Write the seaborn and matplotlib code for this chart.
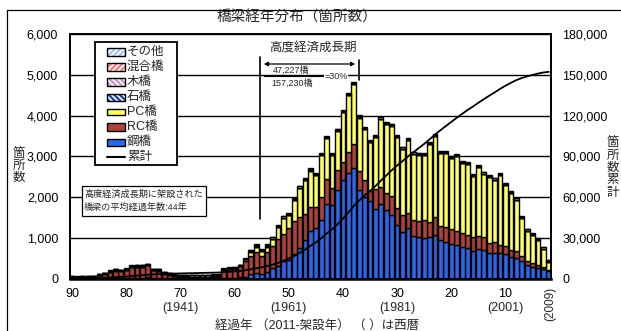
import numpy as np
import pandas as pd
import matplotlib
matplotlib.use("Agg")
import matplotlib.pyplot as plt
import seaborn as sns
from matplotlib.patches import Rectangle, FancyArrowPatch
from matplotlib.lines import Line2D
from matplotlib.ticker import FuncFormatter

# ---- data: bridges by elapsed years (90 -> 2), count per construction type ----
ages = list(range(90, 1, -1))

steel = [5, 0, 5, 5, 5, 5, 5, 10, 10, 10, 15, 20, 15, 20, 25, 10, 10, 5, 5, 5, 5,
         5, 5, 5, 5, 5, 5, 5,
         15, 20, 20, 30, 40,
         100, 140, 120, 150, 250, 300, 420, 450, 600, 750, 940, 1170, 1230, 1430, 1840, 1800, 2170,
         2410, 2580, 2700, 2180, 2000, 1900, 1700, 1840, 1680, 1560, 1310, 1150, 1230, 1040, 1020, 985,
         1020, 1070, 940, 900, 845, 820, 780, 740, 675, 715, 700, 635, 635, 615, 600, 535, 495, 435,
         330, 290, 250, 225, 185]
rc = [20, 20, 25, 25, 35, 70, 100, 150, 180, 170, 195, 260, 275, 270, 295, 190, 180, 115, 85, 55, 40,
      30, 25, 25, 25, 25, 30, 35,
      190, 210, 220, 270, 400,
      460, 500, 440, 490, 550, 660, 680, 800, 800, 750, 650, 590, 530, 570, 610, 410, 490,
      450, 530, 610, 470, 410, 250, 500, 410, 410, 460, 410, 410, 370, 390, 400, 450,
      370, 450, 350, 355, 360, 340, 330, 325, 350, 325, 310, 245, 255, 205, 200, 165, 180, 115,
      100, 100, 75, 65, 25]
pc = [0] * 28 + [5, 5, 10, 15, 30,
      100, 145, 110, 145, 175, 300, 390, 300, 515, 725, 815, 890, 770, 1030, 990, 810, 970,
      1220, 1390, 1460, 1300, 1260, 1195, 1270, 1670, 1700, 1730, 1750, 1620, 1790, 1630, 1620, 1590,
      1910, 1970, 1790, 1825, 1745, 1840, 1720, 1735, 1480, 1690, 1560, 1610, 1530, 1710, 1485, 1395,
      1255, 930, 740, 670, 610, 440, 205]
stone = [20, 15, 15, 15, 15, 20, 20, 20, 20, 20, 20, 20, 20, 20, 20, 20, 20, 20, 20, 20, 20,
         15, 15, 15, 15, 15, 15, 15,
         10, 10, 5, 5, 5] + [0] * 56
wood = [10, 10, 10, 10, 10, 10, 10, 15, 15, 15, 15, 15, 15, 15, 15, 15, 15, 15, 15, 15, 15,
        25, 30, 30, 35, 35, 35, 30,
        15, 10, 10, 5, 5] + [5] * 56
mixed = [0] * 21 + [5] * 7 + [5, 5, 5, 5, 10] + [30] * 56
other = [5] * 21 + [10] * 7 + [10] * 5 + [15] * 56

series = {"鋼橋": steel, "RC橋": rc, "PC橋": pc, "石橋": stone,
          "木橋": wood, "混合橋": mixed, "その他": other}
stack_order = ["その他", "混合橋", "木橋", "石橋", "PC橋", "RC橋", "鋼橋"]  # top -> bottom
colors = {"鋼橋": "#2f66e6", "RC橋": "#ad433b", "PC橋": "#ffff66",
          "石橋": "#a8b4e0", "木橋": "#e3c6e3", "混合橋": "#f2b3b3", "その他": "#dce8f8"}

year_ages = [70, 50, 30, 10]
base_year = 2011

df = pd.concat([pd.DataFrame({"age": ages, "type": k, "count": v}) for k, v in series.items()],
               ignore_index=True)
totals = np.sum([series[k] for k in series], axis=0)
cum_df = pd.DataFrame({"age": ages, "cum": np.cumsum(totals)})

# ---- styling ----
sns.set_theme(style="white")
plt.rcParams["font.family"] = ["Liberation Sans", "Noto Sans CJK JP", "DejaVu Sans"]
plt.rcParams["hatch.linewidth"] = 1.2

W, H = 621, 331
fig = plt.figure(figsize=(W / 100, H / 100), dpi=100)


def fx(px):
    return px / W


def fy(py):
    return 1 - py / H


ax = fig.add_axes([fx(70), fy(278.5), (551 - 70) / W, (278.5 - 34) / H])

sns.histplot(data=df, x="age", weights="count", hue="type", hue_order=stack_order,
             multiple="stack", discrete=True, shrink=0.88, palette=colors,
             edgecolor="black", linewidth=1.0, alpha=1, legend=False, ax=ax, zorder=2)

ax.set_xlim(90.37, 1.6)
ax.set_ylim(0, 6000)
ax.set_xticks(list(range(90, 0, -10)))
ax.set_yticks(range(0, 7000, 1000))
ax.yaxis.set_major_formatter(FuncFormatter(lambda v, p: f"{int(v):,}"))
ax.set_xlabel("")
ax.set_ylabel("")
ax.grid(axis="y", color="black", linewidth=1.0)
ax.grid(axis="x", visible=False)
ax.set_axisbelow(True)
ax.tick_params(axis="y", length=0, pad=8.5, labelsize=9, colors="black")
ax.tick_params(axis="x", length=0, pad=7, labelsize=9, colors="black")
for s in ax.spines.values():
    s.set_color("black")
    s.set_linewidth(1.3)
ax.spines["bottom"].set_linewidth(1.8)

# cumulative total on the right axis
ax2 = ax.twinx()
sns.lineplot(data=cum_df, x="age", y="cum", ax=ax2, color="black", linewidth=1.3)
ax2.set_ylim(0, 180000)
ax2.set_yticks(range(0, 180001, 30000))
ax2.yaxis.set_major_formatter(FuncFormatter(lambda v, p: f"{int(v):,}"))
ax2.set_ylabel("")
ax2.grid(False)
ax2.tick_params(axis="y", length=0, pad=8, labelsize=9, colors="black")
for s in ax2.spines.values():
    s.set_color("black")
    s.set_linewidth(1.3)

# calendar years under the elapsed-year ticks
for a in year_ages:
    ax.text(a, -0.12, f"({base_year - a})", transform=ax.get_xaxis_transform(),
            ha="center", va="center", fontsize=9)
ax.text(1.65, -0.105, f"({base_year - 2})", transform=ax.get_xaxis_transform(),
        ha="center", va="center", fontsize=8.5, rotation=90)

# ---- figure texts ----
fig.text(fx(297), fy(18), "橋梁経年分布（箇所数）", ha="center", va="center", fontsize=10.5)
fig.text(fx(19), fy(166), "箇\n所\n数", ha="center", va="center", fontsize=9, linespacing=1.05)
fig.text(fx(613), fy(168), "箇\n所\n数\n累\n計", ha="center", va="center", fontsize=9,
         linespacing=1.05)
fig.text(fx(317), fy(326), "経過年 （2011-架設年） （ ）は西暦", ha="center", va="center",
         fontsize=9)

# outer frame
fig.add_artist(Line2D([fx(7), fx(621)], [fy(10), fy(10)], color="black", lw=0.9))
fig.add_artist(Line2D([fx(7), fx(7)], [fy(10), fy(331)], color="black", lw=0.9))

# high-growth period marker
fig.add_artist(Line2D([fx(260), fx(260)], [fy(57), fy(219)], color="black", lw=1.2))
fig.add_artist(Line2D([fx(359), fx(359)], [fy(60), fy(80)], color="black", lw=1.2))
fig.add_artist(FancyArrowPatch((fx(261), fy(64)), (fx(358), fy(64)), arrowstyle="<|-|>",
                               mutation_scale=6, lw=0.9, color="black",
                               transform=fig.transFigure))
fig.text(fx(313), fy(49), "高度経済成長期", ha="center", va="center", fontsize=9)
fig.text(fx(291), fy(70.5), "47,227橋", ha="center", va="center", fontsize=6.5)
fig.text(fx(292), fy(83), "157,230橋", ha="center", va="center", fontsize=6.5)
fig.add_artist(Line2D([fx(264), fx(325)], [fy(76), fy(76)], color="black", lw=0.8))
fig.text(fx(336), fy(77), "=30%", ha="center", va="center", fontsize=6.5,
         bbox=dict(facecolor="white", edgecolor="none", pad=0.5))

# note box
fig.add_artist(Rectangle((fx(82), fy(216)), fx(206) - fx(82), fy(186) - fy(216),
                         transform=fig.transFigure, facecolor="white", edgecolor="black",
                         lw=0.9, zorder=3))
fig.text(fx(84), fy(194.5), "高度経済成長期に架設された", ha="left", va="center", fontsize=6.6,
         zorder=4)
fig.text(fx(84), fy(207.5), "橋梁の平均経過年数:44年", ha="left", va="center", fontsize=6.6,
         zorder=4)

# legend box
fig.add_artist(Rectangle((fx(95), fy(165)), fx(177) - fx(95), fy(42) - fy(165),
                         transform=fig.transFigure, facecolor="white", edgecolor="black",
                         lw=1.3, zorder=3))
legend_rows = [
    ("その他", "#a9c6ee", "white", "//////"),
    ("混合橋", "#ee7f7f", "white", "//////"),
    ("木橋", "#c795c7", "white", "\\\\\\\\\\\\"),
    ("石橋", "#1f3fa8", "white", "\\\\\\\\\\\\"),
    ("PC橋", colors["PC橋"], None, None),
    ("RC橋", colors["RC橋"], None, None),
    ("鋼橋", colors["鋼橋"], None, None),
]
row_y = [52, 67, 82, 97, 112, 127, 142.5]
for (label, face, hcol, hatch), y in zip(legend_rows, row_y):
    x0, x1, h = 107, 125, 7
    if hatch:
        fig.add_artist(Rectangle((fx(x0), fy(y + h / 2)), fx(x1) - fx(x0), fy(y - h / 2) - fy(y + h / 2),
                                 transform=fig.transFigure, facecolor=face, edgecolor=hcol,
                                 hatch=hatch, lw=0, zorder=4))
        fig.add_artist(Rectangle((fx(x0), fy(y + h / 2)), fx(x1) - fx(x0), fy(y - h / 2) - fy(y + h / 2),
                                 transform=fig.transFigure, facecolor="none", edgecolor="black",
                                 lw=1.0, zorder=5))
    else:
        fig.add_artist(Rectangle((fx(x0), fy(y + h / 2)), fx(x1) - fx(x0), fy(y - h / 2) - fy(y + h / 2),
                                 transform=fig.transFigure, facecolor=face, edgecolor="black",
                                 lw=1.0, zorder=4))
    fig.text(fx(127), fy(y), label, ha="left", va="center", fontsize=9, zorder=5)
fig.add_artist(Line2D([fx(107), fx(125)], [fy(157), fy(157)], color="black", lw=1.5, zorder=4))
fig.text(fx(127), fy(157), "累計", ha="left", va="center", fontsize=9, zorder=5)

fig.savefig("out.png", dpi=100)
